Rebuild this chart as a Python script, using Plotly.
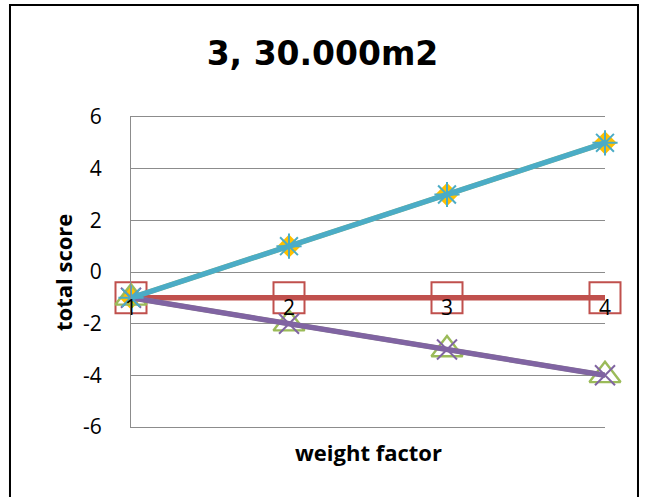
import plotly.graph_objects as go

# Weight factors (category axis) and total scores per scenario
weight_factor = [1, 2, 3, 4]
category_labels = ["1", "2", "3", "4"]
score_gold = [-1, 1, 3, 5]
score_red = [-1, -1, -1, -1]
score_green = [-1, -2, -3, -4]
score_purple = [-1, -2, -3, -4]
score_cyan = [-1, 1, 3, 5]

y_ticks = [-6, -4, -2, 0, 2, 4, 6]

GRID = "#8c8c8c"
FONT = "Open Sans"

fig = go.Figure()

fig.add_trace(go.Scatter(
    x=weight_factor, y=score_gold, mode="lines+markers", cliponaxis=False,
    line=dict(color="#FFC000", width=5),
    marker=dict(symbol="diamond", size=18, color="#FFC000"),
))
fig.add_trace(go.Scatter(
    x=weight_factor, y=score_red, mode="lines+markers", cliponaxis=False,
    line=dict(color="#C0504D", width=5.5),
    marker=dict(symbol="square-open", size=31, color="#C0504D",
                line=dict(width=2, color="#C0504D")),
))
fig.add_trace(go.Scatter(
    x=weight_factor, y=score_green, mode="lines+markers", cliponaxis=False,
    line=dict(color="#9BBB59", width=5),
    marker=dict(symbol="triangle-up-open", size=27, color="#9BBB59",
                line=dict(width=2.4, color="#9BBB59")),
))
fig.add_trace(go.Scatter(
    x=weight_factor, y=score_purple, mode="lines+markers", cliponaxis=False,
    line=dict(color="#8064A2", width=5.5),
    marker=dict(symbol="x-thin-open", size=20, color="#8064A2",
                line=dict(width=2, color="#8064A2")),
))
fig.add_trace(go.Scatter(
    x=weight_factor, y=score_cyan, mode="lines+markers", cliponaxis=False,
    line=dict(color="#4BACC6", width=5.5),
    marker=dict(symbol="asterisk-open", size=21, color="#4BACC6",
                line=dict(width=2, color="#4BACC6")),
))

# Category labels sit on the horizontal axis, which crosses at -1
for xv, lab in zip(weight_factor, category_labels):
    fig.add_annotation(
        x=xv, y=-1, text=lab, showarrow=False,
        yanchor="middle", yshift=-9,
        font=dict(family=FONT, size=21, color="#000000"),
    )

# Axis titles
fig.add_annotation(
    xref="paper", yref="paper", x=0.5, y=-0.08, yanchor="middle",
    text="<b>weight factor</b>", showarrow=False,
    font=dict(family=FONT, size=22, color="#000000"),
)
fig.add_annotation(
    xref="paper", yref="paper", x=-0.1435, y=0.5, xanchor="center",
    text="<b>total score</b>", showarrow=False, textangle=-90,
    font=dict(family=FONT, size=22, color="#000000"),
)

# Chart border
fig.add_shape(
    type="rect", xref="paper", yref="paper",
    x0=-0.2553, x1=1.0696, y0=-0.25, y1=1.3613,
    line=dict(color="#000000", width=2), fillcolor="rgba(0,0,0,0)",
    layer="below",
)

fig.update_layout(
    width=645, height=497,
    margin=dict(l=131, r=40, t=117, b=70),
    paper_bgcolor="white", plot_bgcolor="white",
    showlegend=False,
    title=dict(
        text="<b>3, 30.000m2</b>", x=0.5, xanchor="center",
        y=1 - 53 / 497, yanchor="middle",
        font=dict(family="DejaVu Sans", size=33, color="#000000"),
    ),
    xaxis=dict(
        range=[1, 4], showgrid=False, zeroline=False,
        showticklabels=False, ticks="",
        showline=True, mirror=True, linecolor=GRID, linewidth=1,
    ),
    yaxis=dict(
        range=[-6, 6], tickvals=y_ticks, ticktext=[str(v) for v in y_ticks],
        showgrid=True, gridcolor=GRID, gridwidth=1,
        zeroline=False, showline=True, linecolor=GRID, linewidth=1,
        ticks="", ticklabelstandoff=24,
        tickfont=dict(family=FONT, size=21, color="#000000"),
    ),
)

fig.write_html("out.html")
